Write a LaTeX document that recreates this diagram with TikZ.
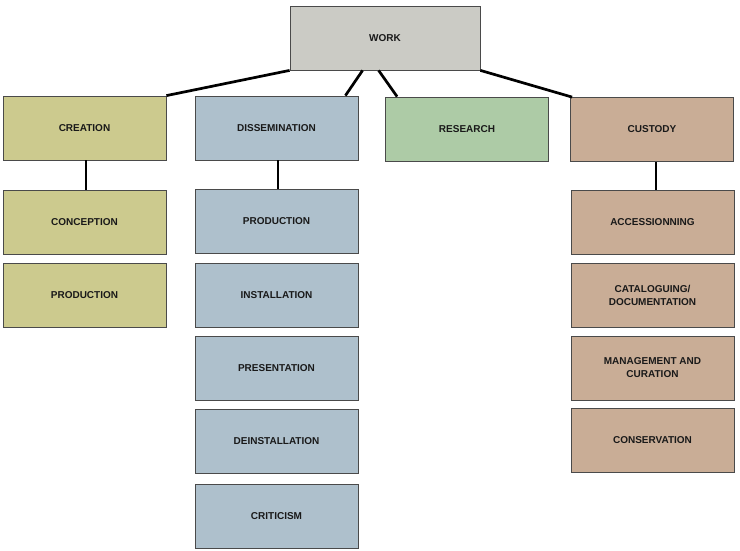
\documentclass[tikz,border=0pt]{standalone}
\usepackage{fontspec}
\setmainfont{Liberation Sans}
\usetikzlibrary{calc}
\definecolor{workgrey}{HTML}{CBCBC5}
\definecolor{creationcol}{HTML}{CCCA8E}
\definecolor{dissemcol}{HTML}{AEC0CC}
\definecolor{researchcol}{HTML}{ADCBA6}
\definecolor{custodycol}{HTML}{C9AD96}
\definecolor{boxline}{HTML}{4A4A4A}
\tikzset{
  box/.style={draw=boxline, line width=0.8pt, minimum width=163pt, minimum height=64pt,
    inner sep=0pt, align=center, font=\fontsize{10}{13}\selectfont\bfseries, text=black!90},
  link/.style={black, line width=2.7pt}
}
\begin{document}
\begin{tikzpicture}[x=1pt,y=-1pt]
\useasboundingbox (0,0) rectangle (740,550);
\node[box, fill=workgrey, minimum width=190pt] (work) at (385,38) {WORK};
% first level
\node[box, fill=creationcol] (creation) at (84.5,128) {CREATION};
\node[box, fill=dissemcol] (dissem) at (276.5,128) {DISSEMINATION};
\node[box, fill=researchcol] (research) at (467,129) {RESEARCH};
\node[box, fill=custodycol] (custody) at (652,129.5) {CUSTODY};
% creation
\node[box, fill=creationcol] (conception) at (84.5,222) {CONCEPTION};
\node[box, fill=creationcol] (cproduction) at (84.5,295) {PRODUCTION};
% dissemination
\node[box, fill=dissemcol] (dproduction) at (276.5,221) {PRODUCTION};
\node[box, fill=dissemcol] (installation) at (276.5,295) {INSTALLATION};
\node[box, fill=dissemcol] (presentation) at (276.5,368) {PRESENTATION};
\node[box, fill=dissemcol] (deinstallation) at (276.5,441) {DEINSTALLATION};
\node[box, fill=dissemcol] (criticism) at (276.5,516) {CRITICISM};
% custody
\node[box, fill=custodycol] (accession) at (652.5,222) {ACCESSIONNING};
\node[box, fill=custodycol] (catalogue) at (652.5,295) {CATALOGUING/\\DOCUMENTATION};
\node[box, fill=custodycol] (management) at (652.5,368) {MANAGEMENT AND\\CURATION};
\node[box, fill=custodycol] (conservation) at (652.5,440) {CONSERVATION};
% links
\draw[link] (work.south west) -- (creation.north east);
\draw[link] ($(work.south west)+(73,0)$) -- ($(dissem.north east)+(-13,0)$);
\draw[link] ($(work.south west)+(89,0)$) -- ($(research.north west)+(12,0)$);
\draw[link] (work.south east) -- ($(custody.north west)+(2,0)$);
\draw[link] ($(creation.south)+(1.5,0)$) -- ($(conception.north)+(1.5,0)$);
\draw[link] ($(dissem.south)+(1.5,0)$) -- ($(dproduction.north)+(1.5,0)$);
\draw[link] ($(custody.south)+(4,0)$) -- ($(accession.north)+(3.5,0)$);
\end{tikzpicture}
\end{document}
